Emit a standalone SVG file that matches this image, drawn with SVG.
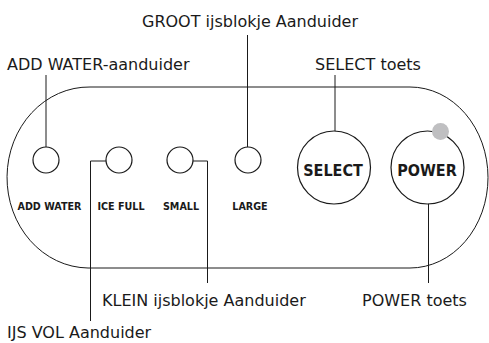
<svg xmlns="http://www.w3.org/2000/svg" width="489" height="343" viewBox="0 0 489 343">
<style>
.ln{fill:none;stroke:#1a1a1a;stroke-width:1}
.ind{fill:#fff;stroke:#1a1a1a;stroke-width:1.2}
.lbl{font-family:"DejaVu Sans",Verdana,sans-serif;font-size:16px;fill:#1a1a1a}
.sm{font-family:"DejaVu Sans",Verdana,sans-serif;font-size:9.6px;font-weight:bold;fill:#1a1a1a;text-anchor:middle}
.big{font-family:"DejaVu Sans Condensed","DejaVu Sans",sans-serif;font-size:16px;font-weight:bold;fill:#1a1a1a;text-anchor:middle}
</style>
<rect width="489" height="343" fill="#fff"/>
<g id="panel">
<path class="ln" d="M90,87 L410,87 A78,90.5 0 0 1 410,268 L88,268 A82,90.5 0 0 1 90,87 Z"/>
</g>
<g id="connectors">
<line class="ln" x1="46" y1="75" x2="46" y2="147"/>
<line class="ln" x1="247.5" y1="35" x2="247.5" y2="157"/>
<line class="ln" x1="335" y1="75" x2="335" y2="140"/>
<polyline class="ln" points="116,161 90.5,161 90.5,321"/>
<polyline class="ln" points="181.5,161 207.5,161 207.5,283"/>
<line class="ln" x1="428.5" y1="194" x2="428.5" y2="283"/>
</g>
<g id="add-water">
<circle class="ind" cx="46" cy="160" r="13"/>
<text class="sm" x="49.5" y="210">ADD WATER</text>
</g>
<g id="ice-full">
<circle class="ind" cx="119" cy="160" r="13"/>
<text class="sm" x="121" y="210">ICE FULL</text>
</g>
<g id="small">
<circle class="ind" cx="180" cy="160" r="13"/>
<text class="sm" x="181" y="210">SMALL</text>
</g>
<g id="large">
<circle class="ind" cx="248" cy="160" r="13"/>
<text class="sm" x="250" y="210">LARGE</text>
</g>
<g id="select">
<circle class="ind" cx="334" cy="167.5" r="36.5"/>
<text class="big" x="333" y="176">SELECT</text>
</g>
<g id="power">
<circle class="ind" cx="427.5" cy="167.5" r="36.5"/>
<circle cx="440.5" cy="131.5" r="8.5" fill="#bfbfc1"/>
<text class="big" x="427" y="176">POWER</text>
</g>
<g id="labels">
<text class="lbl" x="250" y="27" text-anchor="middle">GROOT ijsblokje Aanduider</text>
<text class="lbl" x="7" y="70">ADD WATER-aanduider</text>
<text class="lbl" x="368" y="70" text-anchor="middle">SELECT toets</text>
<text class="lbl" x="102" y="306">KLEIN ijsblokje Aanduider</text>
<text class="lbl" x="414.5" y="306" text-anchor="middle">POWER toets</text>
<text class="lbl" x="7" y="338">IJS VOL Aanduider</text>
</g>
</svg>
